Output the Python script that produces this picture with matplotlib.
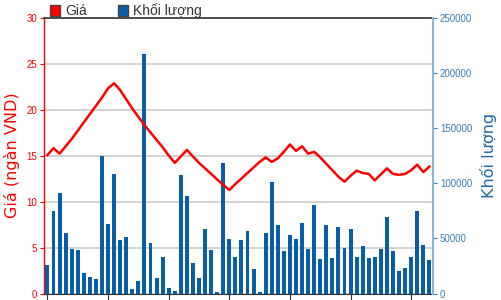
import numpy as np
import matplotlib
matplotlib.use("Agg")
import matplotlib.pyplot as plt
from matplotlib.patches import Patch

# khoi luong giao dich theo phien
volumes = [
    25800, 75000, 90700, 55100, 40300, 39400, 18300, 15200, 13100, 124300,
    63000, 108000, 48200, 50900, 4100, 11000, 217000, 46000, 14300, 33000,
    5300, 2000, 107300, 88000, 27900, 14300, 58100, 39400, 1000, 118200,
    49100, 33000, 48500, 56300, 22200, 1600, 55100, 101000, 61800, 38200,
    53000, 49100, 64100, 40300, 80200, 31200, 61800, 32200, 60000, 41200,
    58100, 33100, 43000, 32200, 33100, 40300, 69000, 38200, 20100, 23100,
    33100, 75000, 43900, 30300,
]
# gia dong cua (ngan VND)
prices = [
    15.05, 15.8, 15.2, 16.0, 16.8, 17.7, 18.6, 19.5, 20.4, 21.3,
    22.3, 22.85, 22.1, 21.1, 20.1, 19.2, 18.3, 17.5, 16.7, 15.9,
    15.0, 14.2, 14.9, 15.6, 14.9, 14.2, 13.6, 13.0, 12.4, 11.8,
    11.25, 11.9, 12.5, 13.1, 13.7, 14.3, 14.8, 14.3, 14.7, 15.4,
    16.2, 15.5, 16.0, 15.2, 15.4, 14.8, 14.1, 13.4, 12.7, 12.15,
    12.8, 13.35, 13.1, 13.0, 12.3, 12.95, 13.6, 13.0, 12.9, 13.0,
    13.4, 14.0, 13.2, 13.8,
]
price_ticks = [0, 5, 10, 15, 20, 25, 30]
volume_ticks = [0, 50000, 100000, 150000, 200000, 250000]

RED = "#ff0000"
BLUE = "#0a5ea8"
AXBLUE = "#3a7db5"

plt.rcParams["font.family"] = ["Liberation Sans", "DejaVu Sans"]

x = np.arange(len(volumes))

fig = plt.figure(figsize=(5.01, 3.0), dpi=100)
ax = fig.add_axes([44 / 501, 6.5 / 300, 389 / 501, 276 / 300])

# nen + luoi
ax.set_xlim(-0.57, len(volumes) - 0.4)
ax.set_ylim(0, 30)
ax.set_yticks(price_ticks)
ax.grid(axis="y", color="#cccccc", linewidth=1.2)
ax.set_axisbelow(True)
ax.tick_params(axis="y", colors=RED, labelsize=7, length=3, width=0.8, pad=2)
ax.set_xticks(x[::10])
ax.set_xticklabels([])
ax.tick_params(axis="x", colors="#333333", length=4, width=0.8)
ax.spines["left"].set_color(RED)
ax.spines["left"].set_linewidth(1.0)
ax.spines["top"].set_color("#333333")
ax.spines["top"].set_linewidth(1.2)
ax.spines["bottom"].set_color("#333333")
ax.spines["right"].set_visible(False)
ax.set_ylabel("Giá (ngàn VND)", color=RED, fontsize=11.5, family="DejaVu Sans")
ax.yaxis.set_label_coords(-0.062, 0.5)

# cot khoi luong
ax2 = ax.twinx()
ax2.bar(x, volumes, width=0.65, color=BLUE, edgecolor="none")
ax2.set_ylim(0, 250000)
ax2.set_yticks(volume_ticks)
ax2.tick_params(axis="y", colors=AXBLUE, labelsize=7, length=3, width=0.8, pad=2)
for s in ["left", "top", "bottom"]:
    ax2.spines[s].set_visible(False)
ax2.spines["right"].set_color("#8cb6d6")
ax2.spines["right"].set_linewidth(1.5)
ax2.set_ylabel("Khối lượng", color="#1f6aa5", fontsize=11.5, family="DejaVu Sans")
ax2.yaxis.set_label_coords(1.12, 0.5)

# duong gia
ax3 = ax.twinx()
ax3.plot(x, prices, color=RED, linewidth=1.8)
ax3.set_ylim(0, 30)
ax3.set_yticks([])
for s in ax3.spines.values():
    s.set_visible(False)

handles = [
    Patch(facecolor=RED, edgecolor="#444444", label="Giá"),
    Patch(facecolor=BLUE, edgecolor="#444444", label="Khối lượng"),
]
fig.legend(handles=handles, loc="upper left", bbox_to_anchor=(0.075, 1.03),
           ncol=2, frameon=False, fontsize=10, handlelength=0.75,
           handleheight=0.8, handletextpad=0.35, columnspacing=2.2,
           labelcolor="#333333")

fig.savefig("out.png", dpi=100)
